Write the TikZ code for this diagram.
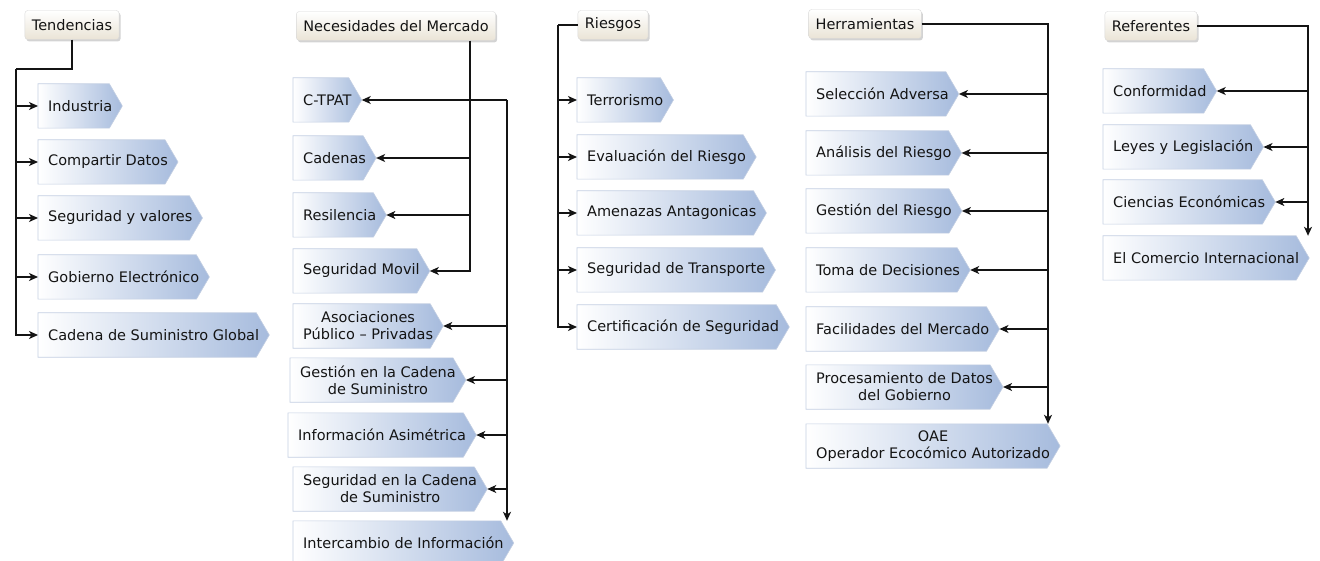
\documentclass[tikz,border=0pt]{standalone}
\usepackage{fontspec}
\setmainfont{DejaVu Sans}
\usetikzlibrary{arrows.meta,positioning,calc,backgrounds,shadows}
\definecolor{ink}{RGB}{20,20,20}
\definecolor{boxblue}{RGB}{166,187,221}
\definecolor{boxedge}{RGB}{196,207,226}
\definecolor{cream}{RGB}{234,228,214}
\tikzset{
  head/.style={draw=black!15,rounded corners=3pt,top color=white,bottom color=cream,
    inner xsep=7pt,minimum height=29pt,text=ink,font=\fontsize{14.5}{17}\selectfont,
    drop shadow={shadow xshift=1.5pt,shadow yshift=-2pt,opacity=0.35}},
  item/.style={anchor=west,inner xsep=10pt,inner ysep=0pt,minimum height=44pt,
    align=center,text=ink,font=\fontsize{14.5}{17}\selectfont},
  itemfill/.style={left color=white,right color=boxblue,draw=boxedge,line width=0.6pt},
  conn/.style={line width=1.3pt,ink},
  arr/.style={-{Stealth[length=9pt,width=8pt,inset=2.5pt]},line width=1.3pt,ink},
}
\begin{document}
\begin{tikzpicture}[x=1pt,y=-1pt]
  \useasboundingbox (0,0) rectangle (1320,561);

  % Tendencias
  \node[head] (tend) at (72,25) {Tendencias};
  \node[item] (ind) at (38,106) {Industria};
  \node[item] (com) at (38,162) {Compartir Datos};
  \node[item] (segv) at (38,218) {Seguridad y valores};
  \node[item] (gob) at (38,277) {Gobierno Electrónico};
  \node[item] (cad) at (38,335) {Cadena de Suministro Global};

  % Necesidades del Mercado
  \node[head] (nec) at (396,26) {Necesidades del Mercado};
  \node[item] (ctpat) at (293,100) {C-TPAT};
  \node[item] (cade) at (293,158) {Cadenas};
  \node[item] (resi) at (293,215) {Resilencia};
  \node[item] (segm) at (293,271) {Seguridad Movil};
  \node[item] (aso) at (293,326) {Asociaciones\\Público -- Privadas};
  \node[item] (gcs) at (290,380) {Gestión en la Cadena\\de Suministro};
  \node[item] (infa) at (288,435) {Información Asimétrica};
  \node[item] (scs) at (293,489) {Seguridad en la Cadena\\de Suministro};
  \node[item] (inter) at (293,543) {Intercambio de Información};

  % Riesgos
  \node[head] (ries) at (613,25) {Riesgos};
  \node[item] (terr) at (577,100) {Terrorismo};
  \node[item] (eval) at (577,157) {Evaluación del Riesgo};
  \node[item] (amen) at (577,213) {Amenazas Antagonicas};
  \node[item] (segt) at (577,270) {Seguridad de Transporte};
  \node[item] (cert) at (577,327) {Certificación de Seguridad};

  % Herramientas
  \node[head] (herr) at (865,24) {Herramientas};
  \node[item] (sela) at (806,94) {Selección Adversa};
  \node[item] (anal) at (806,153) {Análisis del Riesgo};
  \node[item] (gest) at (806,211) {Gestión del Riesgo};
  \node[item] (toma) at (806,270) {Toma de Decisiones};
  \node[item] (faci) at (806,329) {Facilidades del Mercado};
  \node[item] (proc) at (806,387) {Procesamiento de Datos\\del Gobierno};
  \node[item] (oae) at (806,446) {OAE\\Operador Ecocómico Autorizado};

  % Referentes
  \node[head] (refe) at (1151,26) {Referentes};
  \node[item] (conf) at (1103,91) {Conformidad};
  \node[item] (leye) at (1103,147) {Leyes y Legislación};
  \node[item] (cien) at (1103,202) {Ciencias Económicas};
  \node[item] (come) at (1103,258) {El Comercio Internacional};

  % box shapes
  \begin{scope}[on background layer]
    \foreach \n in {ind,com,segv,gob,cad,ctpat,cade,resi,segm,aso,gcs,infa,scs,inter,
      terr,eval,amen,segt,cert,sela,anal,gest,toma,faci,proc,oae,conf,leye,cien,come}
      \shade[itemfill] (\n.north west) -- ($(\n.north east)+(-13,0)$) -- (\n.east)
        -- ($(\n.south east)+(-13,0)$) -- (\n.south west) -- cycle;
  \end{scope}

  % connectors
  \coordinate (tbus) at (16,69);
  \draw[conn] (tend.south) |- (tbus);
  \foreach \n in {ind,com,segv,gob,cad}
    \draw[arr] (tbus) |- (\n.west);

  \coordinate (nbus) at (470,0);
  \draw[arr] (nec.south -| nbus) |- (segm.east);
  \foreach \n in {cade,resi}
    \draw[arr] (nbus |- \n.east) -- (\n.east);
  \coordinate (mbus) at (507,100);
  \draw[arr] (mbus) -- (ctpat.east);
  \draw[arr] (mbus) -- (mbus |- inter.north);
  \foreach \n in {aso,gcs,infa,scs}
    \draw[arr] (mbus |- \n.east) -- (\n.east);

  \coordinate (rbus) at (558,25);
  \draw[conn] (ries.west) -- (rbus);
  \foreach \n in {terr,eval,amen,segt,cert}
    \draw[arr] (rbus) |- (\n.west);

  \coordinate (hbus) at (1048,0);
  \draw[arr] (herr.east) -| (hbus |- oae.north);
  \foreach \n in {sela,anal,gest,toma,faci,proc}
    \draw[arr] (hbus |- \n.east) -- (\n.east);

  \coordinate (fbus) at (1308,0);
  \draw[arr] (refe.east) -| (fbus |- come.north);
  \foreach \n in {conf,leye,cien}
    \draw[arr] (fbus |- \n.east) -- (\n.east);
\end{tikzpicture}
\end{document}
